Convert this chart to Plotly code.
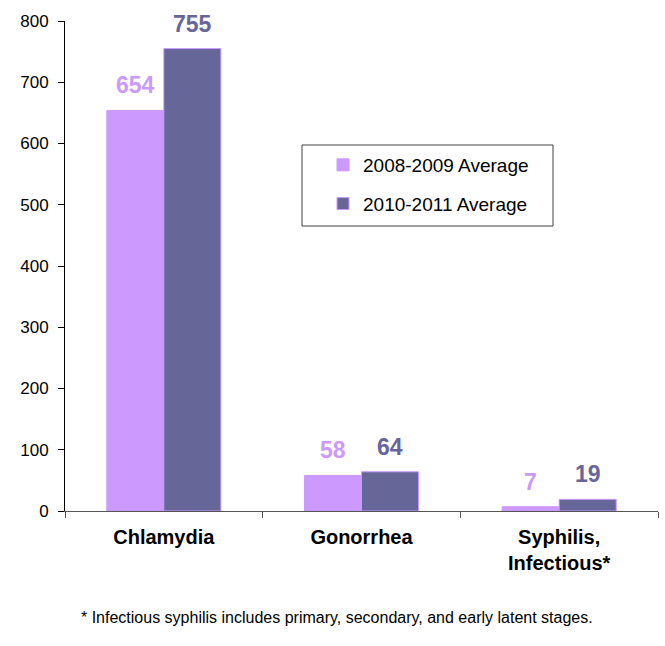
import plotly.graph_objects as go

# Average annual case counts by infection
categories = ["Chlamydia", "Gonorrhea", "Syphilis,<br>Infectious*"]
avg_2008_2009 = [654, 58, 7]
avg_2010_2011 = [755, 64, 19]
series_names = ["2008-2009 Average", "2010-2011 Average"]
y_ticks = [0, 100, 200, 300, 400, 500, 600, 700, 800]

LIGHT = "#CC99FF"
DARK = "#666699"
FONT = "Liberation Sans, Arial, sans-serif"

fig = go.Figure()
fig.add_trace(go.Bar(
    x=categories, y=avg_2008_2009, name=series_names[0], legendgroup="a",
    marker=dict(color=LIGHT, line=dict(color=LIGHT, width=1)),
))
fig.add_trace(go.Bar(
    x=categories, y=avg_2010_2011, name=series_names[1], legendgroup="b",
    marker=dict(color=DARK, line=dict(color=LIGHT, width=1)),
))

# Value labels above each bar
bar_px = 28.5
for cat, v1, v2 in zip(categories, avg_2008_2009, avg_2010_2011):
    for val, shift, col in ((v1, -bar_px, LIGHT), (v2, bar_px, DARK)):
        fig.add_annotation(
            x=cat, y=val, xref="x", yref="y", text=f"<b>{val}</b>",
            showarrow=False, xshift=shift, yshift=25,
            font=dict(family=FONT, size=23, color=col),
        )

# Footnote
fig.add_annotation(
    x=(337 - 65) / 593, y=-(628 - 511) / 490, xref="paper", yref="paper",
    text="* Infectious syphilis includes primary, secondary, and early latent stages.",
    showarrow=False, font=dict(family=FONT, size=16, color="black"),
)

# Legend frame
fig.add_shape(
    type="rect", xref="paper", yref="paper",
    x0=(302 - 65) / 593, x1=(553 - 65) / 593,
    y0=(511 - 226) / 490, y1=(511 - 145) / 490,
    line=dict(color="#404040", width=1), fillcolor="rgba(0,0,0,0)",
)

fig.update_layout(
    width=665, height=646,
    margin=dict(l=65, r=7, t=21, b=135),
    paper_bgcolor="white", plot_bgcolor="white",
    barmode="group", bargap=0.423, bargroupgap=0,
    font=dict(family=FONT, size=17, color="black"),
    showlegend=True,
    legend=dict(
        x=(323 - 65) / 593, y=(511 - 146) / 490, xanchor="left", yanchor="top",
        bgcolor="rgba(0,0,0,0)", borderwidth=0,
        font=dict(family=FONT, size=19, color="black"),
        tracegroupgap=11, itemwidth=30,
    ),
    xaxis=dict(
        showline=True, linecolor="#555555", linewidth=1,
        ticks="outside", tickson="boundaries", ticklen=6, tickcolor="#555555",
        tickfont=dict(family=FONT, size=20, color="black"),
        tickvals=categories, ticktext=[f"<b>{c}</b>" for c in categories],
        ticklabelstandoff=8,
        showgrid=False,
    ),
    yaxis=dict(
        range=[0, 800], tickvals=y_ticks,
        showline=True, linecolor="black", linewidth=1,
        ticks="outside", ticklen=6, tickcolor="black",
        tickfont=dict(family=FONT, size=17, color="black"),
        ticklabelstandoff=6,
        showgrid=False, zeroline=False,
    ),
)

fig.write_html("out.html")
